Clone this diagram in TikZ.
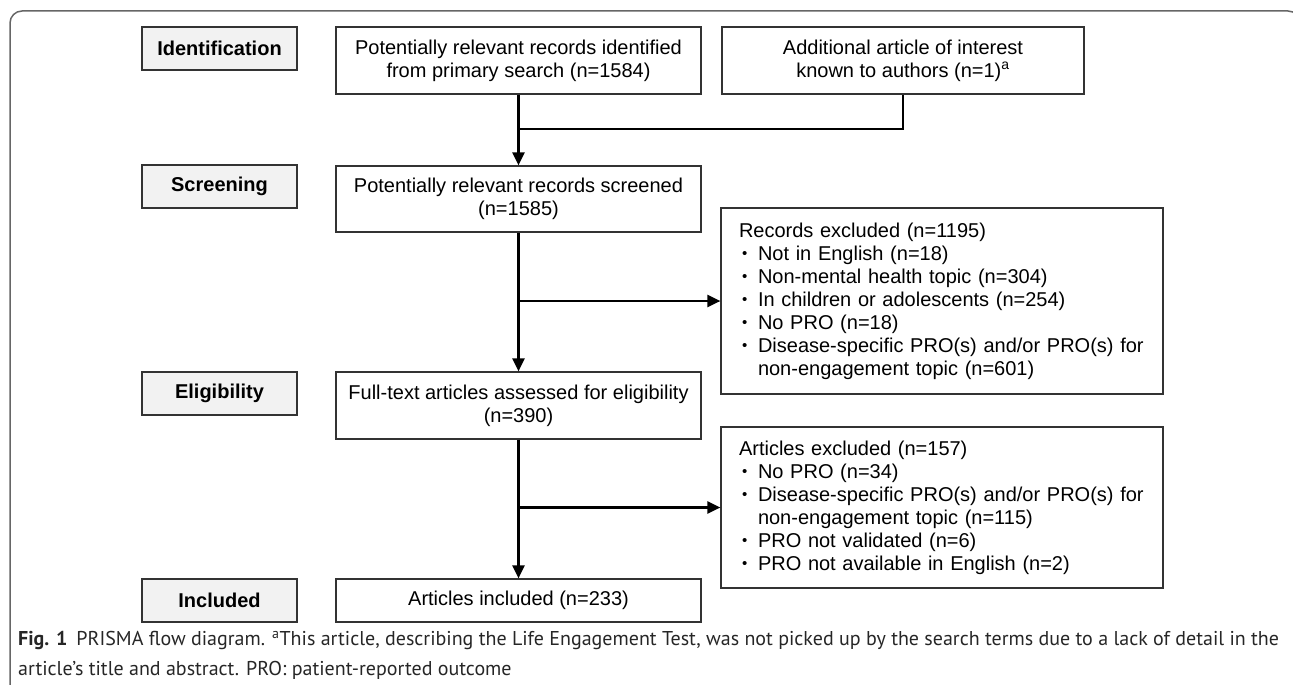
\documentclass[tikz,border=0pt]{standalone}
\usepackage{fontspec}
\setmainfont{Liberation Sans}
\newfontfamily\capfont{PT Sans}
\usetikzlibrary{arrows.meta}
\newcommand{\boxfont}{\fontsize{20}{23}\selectfont}
\newcommand{\bul}{\makebox[19pt][l]{\hspace{3pt}{\fontsize{15}{15}\selectfont\raisebox{1.5pt}{\textbullet}}}}
\newcommand{\hang}{\hspace*{19pt}}

\begin{document}
\begin{tikzpicture}[x=1pt,y=-1pt,
   stage/.style={draw=black!80,fill=black!5,line width=1.2pt,minimum width=155pt,minimum height=43pt,inner sep=0pt,font=\boxfont\bfseries},
   flow/.style={draw=black!80,line width=1.2pt,minimum width=365pt,minimum height=67pt,inner sep=0pt,align=center,font=\boxfont},
   excl/.style={draw=black!80,line width=1.2pt,text width=406pt,inner xsep=18pt,inner ysep=0pt,align=left,font=\boxfont},
   link/.style={line width=2.3pt},
   arr/.style={link,-{Triangle[length=13pt,width=12pt]}}
]
\useasboundingbox (0,0) rectangle (1293,685);
\draw[black!60,line width=1.5pt,rounded corners=12pt] (10,11) rectangle (1300,710);

% stages on the left
\node[stage] (ident) at (219.5,48.5) {Identification};
\node[stage] (screen) at (219.5,186.5) {Screening};
\node[stage] (elig) at (219.5,393.5) {Eligibility};
\node[stage] (incl) at (219.5,600.5) {Included};

% main column
\node[flow] (search) at (518.5,60.5) {Potentially relevant records identified\\from primary search (n=1584)};
\node[flow,minimum width=362pt] (extra) at (903,60.5) {Additional article of interest\\known to authors (n=1)\textsuperscript{a}};
\node[flow,minimum height=66pt] (screened) at (518.5,199) {Potentially relevant records screened\\(n=1585)};
\node[flow] (fulltext) at (518.5,405.5) {Full-text articles assessed for eligibility\\(n=390)};
\node[flow,minimum height=43pt] (included) at (518.5,600.5) {Articles included (n=233)};

% exclusions
\node[excl,minimum height=186pt] (recexcl) at (942,301) {Records excluded (n=1195)\\
\bul Not in English (n=18)\\
\bul Non-mental health topic (n=304)\\
\bul In children or adolescents (n=254)\\
\bul No PRO (n=18)\\
\bul Disease-specific PRO(s) and/or PRO(s) for\\
\hang non-engagement topic (n=601)};
\node[excl,minimum height=161pt] (artexcl) at (942,507.5) {Articles excluded (n=157)\\
\bul No PRO (n=34)\\
\bul Disease-specific PRO(s) and/or PRO(s) for\\
\hang non-engagement topic (n=115)\\
\bul PRO not validated (n=6)\\
\bul PRO not available in English (n=2)};

% connectors
\coordinate (merge) at (518.5,129);
\coordinate (split1) at (screened.south |- recexcl.west);
\coordinate (split2) at (fulltext.south |- artexcl.west);
\draw[arr] (search.south) -- (screened.north);
\draw[link] (extra.south) |- (merge);
\draw[arr] (screened.south) -- (fulltext.north);
\draw[arr] (split1) -- (recexcl.west);
\draw[arr] (fulltext.south) -- (included.north);
\draw[arr] (split2) -- (artexcl.west);

% caption
\node[anchor=north west,align=left,inner sep=0pt,text=black!85,font=\capfont\fontsize{20}{30}\selectfont] (caption) at (18,631)
  {\textbf{Fig. 1}\hspace{9pt}PRISMA flow diagram. \textsuperscript{a}This article, describing the Life Engagement Test, was not picked up by the search terms due to a lack of detail in the\\
   article’s title and abstract. PRO: patient-reported outcome};
\end{tikzpicture}
\end{document}
